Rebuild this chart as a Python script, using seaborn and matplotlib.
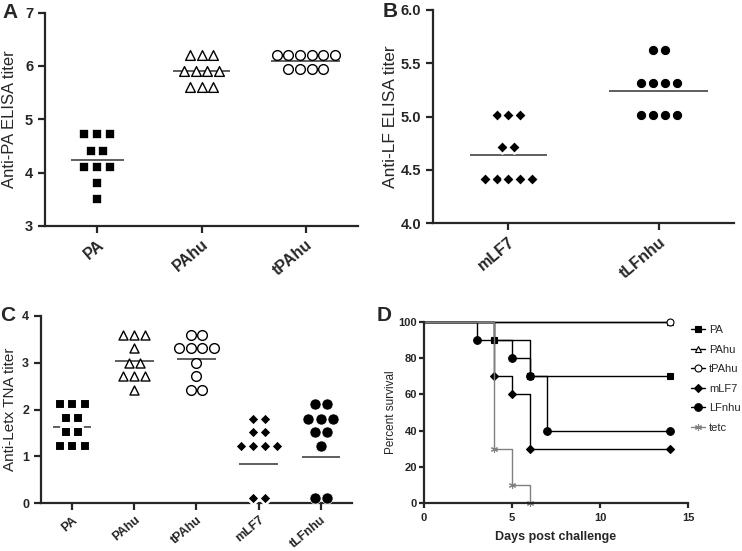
import numpy as np
import pandas as pd
import matplotlib
matplotlib.use("Agg")
import matplotlib.pyplot as plt
from matplotlib import font_manager
import seaborn as sns

# ---- data ----
# panel A: anti-PA ELISA titer
pa_groups = ['PA', 'PAhu', 'tPAhu']
pa_vals = [4.72, 4.72, 4.72, 4.4, 4.4, 4.1, 4.1, 4.1, 3.8, 3.5]
pahu_vals = [6.2, 6.2, 6.2, 5.9, 5.9, 5.9, 5.9, 5.6, 5.6, 5.6]
tpahu_vals = [6.2, 6.2, 6.2, 6.2, 6.2, 6.2, 5.95, 5.95, 5.95, 5.95]
a_means = [4.24, 5.91, 6.09]

# panel B: anti-LF ELISA titer
lf_groups = ['mLF7', 'tLFnhu']
mlf7_vals = [5.01, 5.01, 5.01, 4.71, 4.71, 4.41, 4.41, 4.41, 4.41, 4.41]
tlfnhu_vals = [5.62, 5.62, 5.31, 5.31, 5.31, 5.31, 5.01, 5.01, 5.01, 5.01]
b_means = [4.64, 5.24]

# panel C: anti-LeTx TNA titer
tna_groups = ['PA', 'PAhu', 'tPAhu', 'mLF7', 'tLFnhu']
tna_pa = [2.12, 2.12, 2.12, 1.82, 1.82, 1.52, 1.52, 1.21, 1.21, 1.21]
tna_pahu = [3.59, 3.59, 3.59, 3.32, 2.99, 2.99, 2.71, 2.71, 2.71, 2.41]
tna_tpahu = [3.6, 3.6, 3.32, 3.32, 3.32, 3.32, 3.0, 2.72, 2.41, 2.41]
tna_mlf7 = [1.8, 1.8, 1.52, 1.52, 1.21, 1.21, 1.21, 1.21, 0.11, 0.11]
tna_tlfnhu = [2.12, 2.12, 1.8, 1.8, 1.8, 1.52, 1.52, 1.21, 0.11, 0.11]
c_means = [1.63, 3.04, 3.07, 0.84, 0.98]

# panel D: survival
surv_names = ['PA', 'PAhu', 'tPAhu', 'mLF7', 'LFnhu', 'tetc']
surv_days = [
    [0, 4, 6, 14],
    [0, 14],
    [0, 14],
    [0, 4, 5, 6, 14],
    [0, 3, 5, 6, 7, 14],
    [0, 4, 5, 6],
]
surv_pct = [
    [100, 90, 70, 70],
    [100, 100],
    [100, 100],
    [100, 70, 60, 30, 30],
    [100, 90, 80, 70, 40, 40],
    [100, 30, 10, 0],
]

sns.set_style('ticks')
plt.rcParams['font.family'] = ['Liberation Sans', 'DejaVu Sans']
plt.rcParams['axes.linewidth'] = 1.6
plt.rcParams['xtick.major.width'] = 1.6
plt.rcParams['ytick.major.width'] = 1.6
plt.rcParams['xtick.major.size'] = 5
plt.rcParams['ytick.major.size'] = 5

installed = {f.name for f in font_manager.fontManager.ttflist}
if 'Liberation Sans Narrow' in installed:
    narrow = ['Liberation Sans Narrow', 'DejaVu Sans']
else:
    narrow = ['Liberation Sans', 'DejaVu Sans']

fig = plt.figure(figsize=(7.42, 5.51), dpi=100)
swarms = []  # (collection, category index) for re-centering rows later


def filled(lw):
    # white rim keeps a small gap between neighbouring marks
    return dict(color='black', edgecolor='white', linewidth=lw)


def hollow():
    return dict(color='white', edgecolor='black', linewidth=1)


def dot_panel(ax, groups, vals_list, markers, styles, sizes, means, halfw, fs):
    for i, (g, vals, m, st, sz) in enumerate(zip(groups, vals_list, markers, styles, sizes)):
        d = pd.DataFrame({'group': g, 'titer': vals})
        n_before = len(ax.collections)
        sns.swarmplot(data=d, x='group', y='titer', order=groups, marker=m,
                      size=sz, ax=ax, clip_on=False, **st)
        for coll in ax.collections[n_before:]:
            if len(coll.get_offsets()) > 0:
                swarms.append((coll, i))
    pos = np.arange(len(groups))
    halfw = np.asarray(halfw)
    ax.hlines(means, pos - halfw, pos + halfw, color='#333333', linewidth=1.1, zorder=1)
    ax.set_xlim(-0.5, len(groups) - 0.5)
    ax.set_xlabel('')
    sns.despine(ax=ax)
    ax.tick_params(axis='x', pad=3)
    for lab in ax.get_xticklabels():
        lab.set_rotation(40)
        lab.set_ha('right')
        lab.set_va('top')
        lab.set_rotation_mode('anchor')
        lab.set_fontweight('bold')
        lab.set_fontsize(fs)


# A
axA = fig.add_axes([0.0606, 0.590, 0.422, 0.387])
dot_panel(axA, pa_groups, [pa_vals, pahu_vals, tpahu_vals], ['s', '^', 'o'],
          [filled(1.2), hollow(), hollow()], [7.5, 7, 7], a_means, [0.255, 0.27, 0.33], 11.5)
axA.set_ylim(3, 7)
axA.set_yticks([3, 4, 5, 6, 7])
axA.set_yticklabels(['3', '4', '5', '6', '7'], fontweight='bold', fontsize=10.5)
axA.set_ylabel('Anti-PA ELISA titer', fontsize=12, labelpad=6)

# B
axB = fig.add_axes([0.5836, 0.595, 0.4057, 0.387])
dot_panel(axB, lf_groups, [mlf7_vals, tlfnhu_vals], ['D', 'o'],
          [filled(1.5), filled(0.8)], [6.5, 7.5], b_means, [0.255, 0.33], 11.5)
axB.set_ylim(4, 6)
axB.set_yticks([4.0, 4.5, 5.0, 5.5, 6.0])
axB.set_yticklabels(['4.0', '4.5', '5.0', '5.5', '6.0'], fontweight='bold', fontsize=10.5)
axB.set_ylabel('Anti-LF ELISA titer', fontsize=12.5, labelpad=2)

# C
axC = fig.add_axes([0.0553, 0.0871, 0.419, 0.3394])
dot_panel(axC, tna_groups, [tna_pa, tna_pahu, tna_tpahu, tna_mlf7, tna_tlfnhu],
          ['s', '^', 'o', 'D', 'o'],
          [filled(1.5), hollow(), hollow(), filled(1.8), filled(0.5)],
          [7, 6.5, 7, 6.5, 8], c_means, [0.31] * 5, 9)
axC.set_ylim(0, 4)
axC.set_yticks([0, 1, 2, 3, 4])
axC.set_yticklabels(['0', '1', '2', '3', '4'], fontweight='bold', fontsize=9)
axC.set_ylabel('Anti-Letx TNA titer', fontsize=11)

# D
axD = fig.add_axes([0.5714, 0.0871, 0.3558, 0.3285])
d_markers = ['s', '^', 'o', 'D', 'o', (6, 2, 0)]
d_colors = ['black', 'black', 'black', 'black', 'black', '#808080']
d_mfc = ['black', 'white', 'white', 'black', 'black', '#808080']
d_msize = [5, 4.5, 5, 4, 5.5, 5]
for name, t, s, m, c, fc, ms in zip(surv_names, surv_days, surv_pct, d_markers,
                                    d_colors, d_mfc, d_msize):
    sns.lineplot(x=t, y=s, ax=axD, drawstyle='steps-post', marker=m, markevery=slice(1, None),
                 markersize=ms, markerfacecolor=fc, markeredgecolor=c, markeredgewidth=0.8,
                 color=c, linewidth=1.0, label=name, clip_on=False)
axD.set_xlim(0, 15)
axD.set_ylim(0, 100)
axD.set_xticks([0, 5, 10, 15])
axD.set_yticks([0, 20, 40, 60, 80, 100])
sns.despine(ax=axD)
axD.tick_params(length=3.5)
axD.tick_params(axis='y', pad=1.5)
for lab in axD.get_xticklabels() + axD.get_yticklabels():
    lab.set_family(narrow)
    lab.set_fontweight('bold')
    lab.set_fontsize(8)
axD.set_xlabel('Days post challenge', fontsize=9, fontweight='bold', family=narrow, labelpad=6)
axD.set_ylabel('Percent survival', fontsize=8.5, family=narrow, labelpad=1)
axD.legend(loc='upper left', bbox_to_anchor=(1.0, 1.0), frameon=False,
           handlelength=1.2, handletextpad=0.4, labelspacing=0.85, borderaxespad=0.2,
           borderpad=0.1, prop={'family': narrow, 'size': 8})

# panel letters
for x, y, t in [(0.004, 0.995, 'A'), (0.516, 0.997, 'B'), (0.0, 0.445, 'C'), (0.508, 0.445, 'D')]:
    fig.text(x, y, t, fontsize=15, fontweight='bold', va='top', ha='left')

# seaborn lays the swarm out at draw time with the first point of a row in the middle;
# centre each row on its category instead (as in the original figure)
fig.canvas.draw()
for coll, centre in swarms:
    xy = np.array(coll.get_offsets())
    for yv in np.unique(xy[:, 1]):
        row = xy[:, 1] == yv
        xy[row, 0] += centre - xy[row, 0].mean()
    coll.set_offsets(xy)
    coll.__dict__.pop('draw', None)

fig.savefig('out.png', dpi=100)
